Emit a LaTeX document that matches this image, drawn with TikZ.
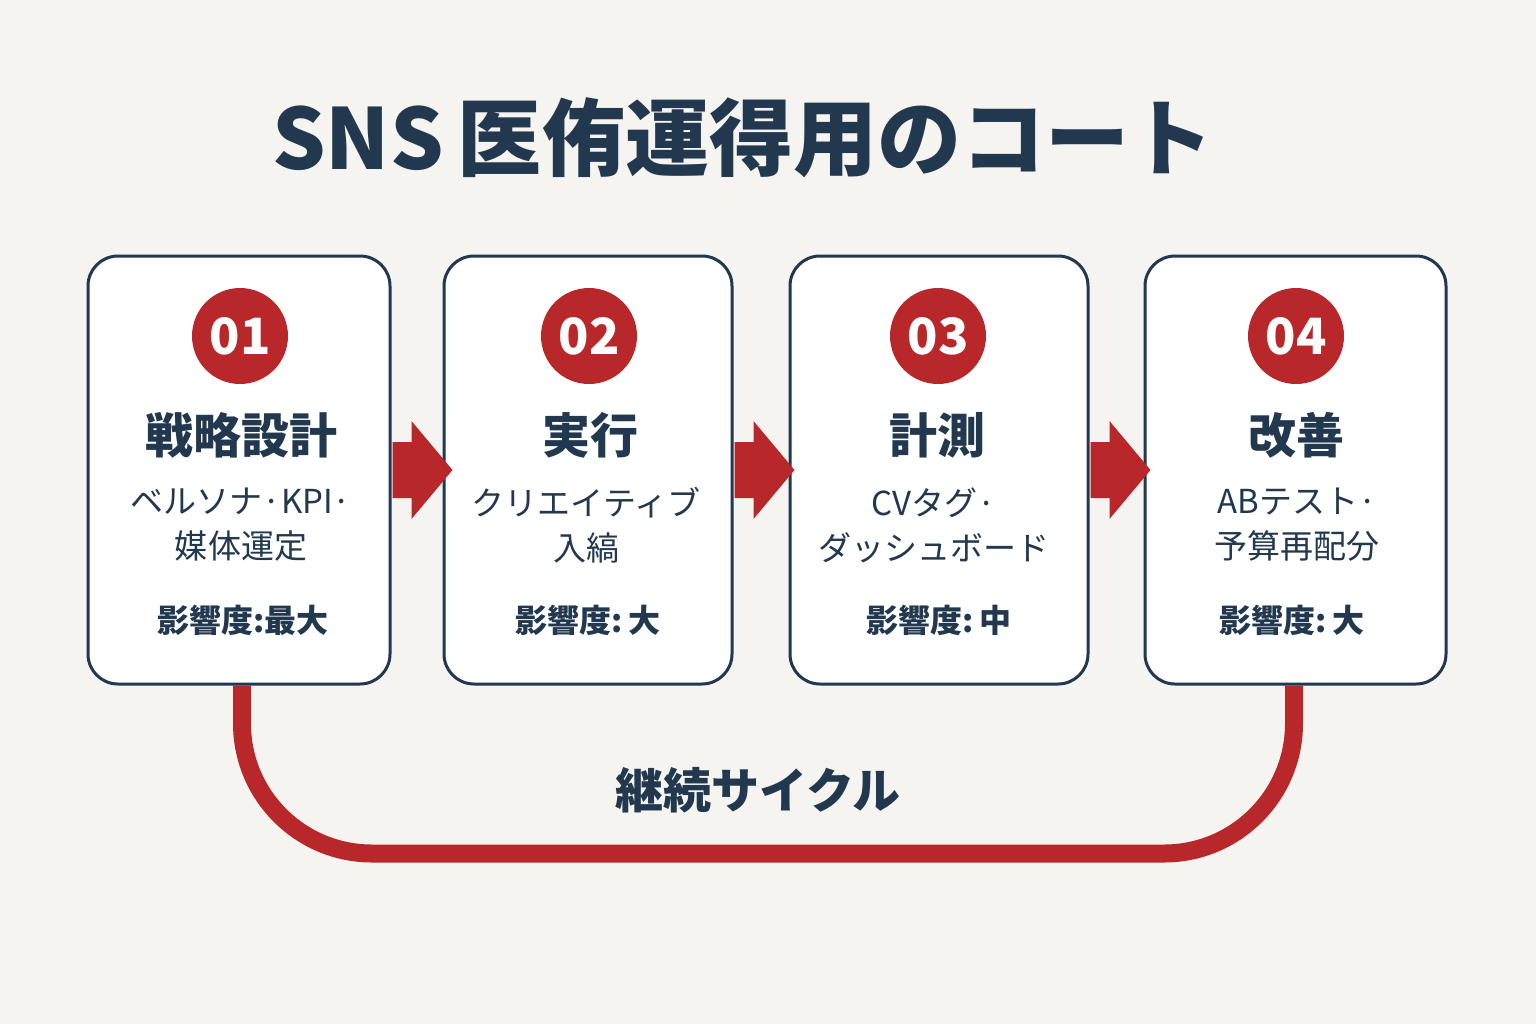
\documentclass[tikz,border=0pt]{standalone}
\usepackage{fontspec}
\usetikzlibrary{calc}
\newfontfamily\jp{Noto Sans CJK JP}
\definecolor{navy}{HTML}{22384E}
\definecolor{redc}{HTML}{B8282A}
\definecolor{bgc}{HTML}{F6F4F0}
\tikzset{
  stagebox/.style={draw=navy, line width=1.5pt, fill=white, rounded corners=15pt, minimum height=214pt, inner sep=0pt},
  numdot/.style={circle, fill=redc, minimum size=48pt, inner sep=0pt, text=white, font={\jp\bfseries\fontsize{25}{25}\selectfont}},
  head/.style={text=navy, font={\jp\bfseries\fontsize{24}{24}\selectfont}},
  sub/.style={text=navy, align=center, font={\jp\fontsize{16.5}{22.5}\selectfont}},
  impact/.style={text=navy, font={\jp\bfseries\fontsize{16}{16}\selectfont}},
  flowarrow/.style={fill=redc},
  cyc/.style={draw=redc, line width=9pt},
}
\begin{document}
\begin{tikzpicture}[x=0.5pt,y=-0.5pt]
\fill[bgc] (0,0) rectangle (1536,1024);
\useasboundingbox (0,0) rectangle (1536,1024);

\node[text=navy, font={\jp\bfseries\fontsize{42}{42}\selectfont}] (title) at (743,138) {SNS\,医侑運得用のコート};

% box positions
\coordinate (c1) at (239,470);
\coordinate (c2) at (588,470);
\coordinate (c3) at (939,470);
\coordinate (c4) at (1295.5,470);

% invisible placeholders for connector anchors
\node[stagebox, draw=none, fill=none, minimum width=151pt] (b1) at (c1) {};
\node[stagebox, draw=none, fill=none, minimum width=144pt] (b2) at (c2) {};
\node[stagebox, draw=none, fill=none, minimum width=149pt] (b3) at (c3) {};
\node[stagebox, draw=none, fill=none, minimum width=150.5pt] (b4) at (c4) {};

% cycle connector
\draw[cyc, rounded corners=65pt] ($(b1.south)+(3,0)$) -- ++(0,168) -| ($(b4.south)+(-1.5,0)$);

% boxes
\node[stagebox, minimum width=151pt] at (c1) {};
\node[stagebox, minimum width=144pt] at (c2) {};
\node[stagebox, minimum width=149pt] at (c3) {};
\node[stagebox, minimum width=150.5pt] at (c4) {};

% flow arrows
\foreach \a in {b1,b2,b3}{
  \fill[flowarrow] ($(\a.east)+(1,-28)$) -- ++(19,0) -- ++(0,-21) -- ++(41,49) -- ++(-41,49) -- ++(0,-21) -- ++(-19,0) -- cycle;
}

% numbers
\node[numdot] (n1) at (240,336) {01};
\node[numdot] (n2) at (589,336) {02};
\node[numdot] (n3) at (938,336) {03};
\node[numdot] (n4) at (1296,336) {04};

% headings
\node[head] (h1) at (241,435) {戦略設計};
\node[head] (h2) at (590,435) {実行};
\node[head] (h3) at (937,435) {計測};
\node[head] (h4) at (1296,435) {改善};

% sub texts
\node[sub] (s1) at (241,525) {ベルソナ·KPI·\\媒体運定};
\node[sub] (s2) at (586,525) {クリエイティブ\\入縞};
\node[sub] (s3) at (934,525) {CVタグ·\\ダッシュボード};
\node[sub] (s4) at (1297,525) {ABテスト·\\予算再配分};

% impact
\node[impact] (i1) at (243,620) {影響度:最大};
\node[impact] (i2) at (588,620) {影響度:\,大};
\node[impact] (i3) at (939,620) {影響度:\,中};
\node[impact] (i4) at (1292,620) {影響度:\,大};

% cycle label
\node[text=navy, font={\jp\bfseries\fontsize{24}{24}\selectfont}] (cl) at (758,790) {継続サイクル};
\end{tikzpicture}
\end{document}
